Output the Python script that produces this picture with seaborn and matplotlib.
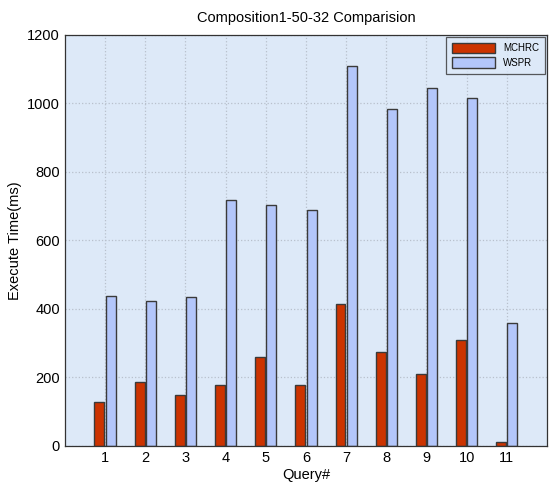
import matplotlib
matplotlib.use("Agg")
import matplotlib.pyplot as plt
import seaborn as sns
import pandas as pd

queries = [str(i) for i in range(1, 12)]
mchrc = [127, 186, 149, 178, 259, 178, 415, 274, 210, 309, 12]
wspr = [438, 422, 436, 718, 703, 689, 1109, 984, 1045, 1016, 359]
methods = ["MCHRC", "WSPR"]
colors = ["#cc3300", "#b3c6fa"]
yticks = [0, 200, 400, 600, 800, 1000, 1200]

df = pd.DataFrame({
    "Query": queries * 2,
    "Time": mchrc + wspr,
    "Method": [methods[0]] * len(queries) + [methods[1]] * len(queries),
})

sns.set_theme(style="white")
plt.rcParams["font.family"] = ["Liberation Sans", "DejaVu Sans"]
plt.rcParams["text.color"] = "black"
plt.rcParams["axes.labelcolor"] = "black"
plt.rcParams["xtick.color"] = "black"
plt.rcParams["ytick.color"] = "black"

fig = plt.figure(figsize=(5.5, 4.92), dpi=100)
ax = fig.add_axes([0.118, 0.0935, 0.8765, 0.8355])
ax.set_facecolor("#dde9f8")

sns.barplot(data=df, x="Query", y="Time", hue="Method", order=queries,
            hue_order=methods, palette=colors, width=0.56, gap=0.12,
            edgecolor="#3a3a3a", linewidth=1.0, saturation=1, ax=ax,
            errorbar=None)

ax.set_xlim(-1, 11)
ax.set_ylim(0, 1200)
ax.set_yticks(yticks)
ax.set_yticklabels([str(v) for v in yticks], fontsize=10.5)
ax.tick_params(axis="x", labelsize=10.5, length=3, direction="in", color="#444444")
ax.tick_params(axis="y", length=3, direction="in", color="#444444")
ax.grid(True, linestyle=":", color="#b8c0cc", linewidth=0.9)
ax.set_axisbelow(True)
for s in ax.spines.values():
    s.set_color("#333333")
    s.set_linewidth(0.9)

ax.set_title("Composition1-50-32 Comparision", fontsize=10.5, pad=9)
ax.set_xlabel("Query#", fontsize=10.5, labelpad=2)
ax.set_ylabel("Execute Time(ms)", fontsize=10.5, labelpad=4)

leg = ax.legend(loc="upper right", fontsize=7, frameon=True, fancybox=False,
                handlelength=4.5, handleheight=1.3, borderpad=0.6,
                labelspacing=0.4, borderaxespad=0.2)
leg.get_frame().set_edgecolor("#333333")
leg.get_frame().set_facecolor("#dde9f8")
leg.get_frame().set_linewidth(0.9)

fig.savefig("out.png", dpi=100)
